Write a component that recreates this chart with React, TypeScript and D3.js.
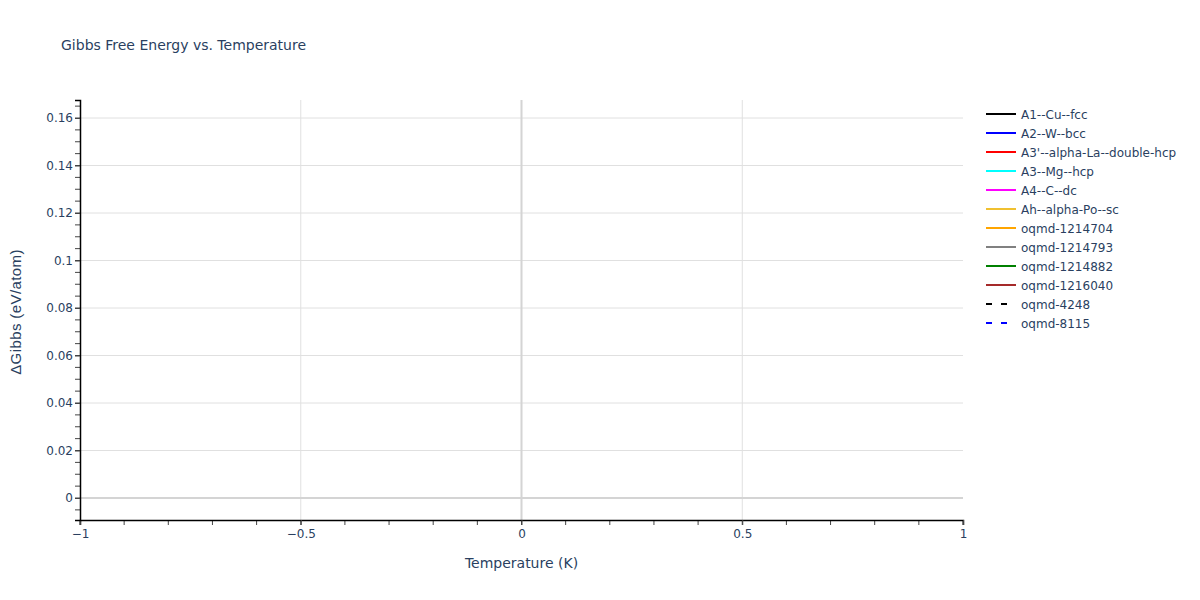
import React, { useEffect, useRef } from "react";
import * as d3 from "d3";

// series shown in the legend (no points survive in the plotted range)
const seriesNames = [
  "A1--Cu--fcc",
  "A2--W--bcc",
  "A3'--alpha-La--double-hcp",
  "A3--Mg--hcp",
  "A4--C--dc",
  "Ah--alpha-Po--sc",
  "oqmd-1214704",
  "oqmd-1214793",
  "oqmd-1214882",
  "oqmd-1216040",
  "oqmd-4248",
  "oqmd-8115",
];
const seriesColors = [
  "black",
  "blue",
  "red",
  "cyan",
  "magenta",
  "#f0c030",
  "orange",
  "gray",
  "green",
  "brown",
  "black",
  "blue",
];
const seriesDashed = [false, false, false, false, false, false, false, false, false, false, true, true];
const seriesTemps: number[][] = seriesNames.map(() => []);
const seriesGibbs: number[][] = seriesNames.map(() => []);

const xDomain = [-1, 1];
const yDomain = [-0.00926, 0.16758];
const xTicks = [-1, -0.5, 0, 0.5, 1];
const yTicks = [0, 0.02, 0.04, 0.06, 0.08, 0.1, 0.12, 0.14, 0.16];

const W = 1200;
const H = 600;
const FONT = "'DejaVu Sans', Verdana, sans-serif";
const TEXT = "#2a3f5f";

const App: React.FC = () => {
  const svgRef = useRef<SVGSVGElement>(null);

  useEffect(() => {
    if (!svgRef.current) return;
    const margin = { top: 100, right: 237, bottom: 80, left: 80 };
    const width = W - margin.left - margin.right;
    const height = H - margin.top - margin.bottom;

    const svg = d3.select(svgRef.current);
    svg.selectAll("*").remove();

    svg.append("rect").attr("width", W).attr("height", H).attr("fill", "white");

    const g = svg.append("g").attr("transform", `translate(${margin.left},${margin.top})`);

    const x = d3.scaleLinear().domain(xDomain).range([0, width]);
    const y = d3.scaleLinear().domain(yDomain).range([height, 0]);

    // grid
    g.append("g")
      .selectAll("line")
      .data(xTicks.filter((t) => t !== 0 && t !== -1 && t !== 1))
      .enter()
      .append("line")
      .attr("x1", (d) => x(d))
      .attr("x2", (d) => x(d))
      .attr("y1", 0)
      .attr("y2", height)
      .attr("stroke", "#e0e0e0")
      .attr("stroke-width", 1);
    g.append("g")
      .selectAll("line")
      .data(yTicks.filter((t) => t !== 0))
      .enter()
      .append("line")
      .attr("x1", 0)
      .attr("x2", width)
      .attr("y1", (d) => y(d))
      .attr("y2", (d) => y(d))
      .attr("stroke", "#e0e0e0")
      .attr("stroke-width", 1);

    // zero lines
    g.append("line")
      .attr("x1", x(0))
      .attr("x2", x(0))
      .attr("y1", 0)
      .attr("y2", height)
      .attr("stroke", "#d4d4d4")
      .attr("stroke-width", 2);
    g.append("line")
      .attr("x1", 0)
      .attr("x2", width)
      .attr("y1", y(0))
      .attr("y2", y(0))
      .attr("stroke", "#d4d4d4")
      .attr("stroke-width", 2);

    // data lines (none fall in the plotted range)
    seriesNames.forEach((_, i) => {
      const pts = seriesTemps[i].map((t, j) => [t, seriesGibbs[i][j]] as [number, number]);
      if (!pts.length) return;
      g.append("path")
        .attr(
          "d",
          d3
            .line<[number, number]>()
            .x((d) => x(d[0]))
            .y((d) => y(d[1]))(pts),
        )
        .attr("fill", "none")
        .attr("stroke", seriesColors[i])
        .attr("stroke-width", 2)
        .attr("stroke-dasharray", seriesDashed[i] ? "6,6" : null);
    });

    // x axis
    const xMinor = d3.range(-10, 11).map((v) => v / 10);
    g.append("g")
      .attr("transform", `translate(0,${height})`)
      .selectAll("line")
      .data(xMinor)
      .enter()
      .append("line")
      .attr("x1", (d) => x(d))
      .attr("x2", (d) => x(d))
      .attr("y1", 0)
      .attr("y2", 5)
      .attr("stroke", "#444");
    const xAxis = g
      .append("g")
      .attr("transform", `translate(0,${height})`)
      .call(
        d3
          .axisBottom(x)
          .tickValues(xTicks)
          .tickSize(5)
          .tickFormat((d) => {
            const v = d as number;
            const s = d3.format("")(Math.abs(v));
            return v < 0 ? "\u2212" + s : s;
          }),
      );
    xAxis.select(".domain").attr("stroke", "black").attr("stroke-width", 1.5);
    xAxis.selectAll(".tick line").attr("stroke", "#444");
    xAxis
      .selectAll("text")
      .attr("dy", "0.71em")
      .attr("y", 9)
      .style("font-family", FONT)
      .style("font-size", "12px")
      .attr("fill", TEXT);

    // y axis
    const yMinor = d3.range(-1, 34).map((v) => v * 0.005);
    g.append("g")
      .selectAll("line")
      .data(yMinor)
      .enter()
      .append("line")
      .attr("x1", -5)
      .attr("x2", 0)
      .attr("y1", (d) => y(d))
      .attr("y2", (d) => y(d))
      .attr("stroke", "#444");
    const yAxis = g.append("g").call(
      d3
        .axisLeft(y)
        .tickValues(yTicks)
        .tickSize(5)
        .tickFormat((d) => d3.format("")(+(d as number).toFixed(2))),
    );
    yAxis.select(".domain").attr("stroke", "black").attr("stroke-width", 1.5);
    yAxis.selectAll(".tick line").attr("stroke", "#444");
    yAxis
      .selectAll("text")
      .attr("x", -7)
      .style("font-family", FONT)
      .style("font-size", "12px")
      .attr("fill", TEXT);

    // axis titles
    svg
      .append("text")
      .attr("x", margin.left + width / 2)
      .attr("y", 568)
      .attr("text-anchor", "middle")
      .style("font-family", FONT)
      .style("font-size", "14px")
      .attr("fill", TEXT)
      .text("Temperature (K)");
    svg
      .append("text")
      .attr("transform", `translate(21,${margin.top + height / 2 + 2}) rotate(-90)`)
      .attr("text-anchor", "middle")
      .style("font-family", "'Liberation Sans', Arial, sans-serif")
      .style("font-size", "15px")
      .style("letter-spacing", "0.4px")
      .attr("fill", TEXT)
      .text("\u0394Gibbs (eV/atom)");

    // title
    svg
      .append("text")
      .attr("x", 61)
      .attr("y", 50)
      .style("font-family", FONT)
      .style("font-size", "14px")
      .attr("fill", TEXT)
      .text("Gibbs Free Energy vs. Temperature");

    // legend
    const legend = svg.append("g").attr("transform", "translate(986,114)");
    const items = legend
      .selectAll("g")
      .data(seriesNames)
      .enter()
      .append("g")
      .attr("transform", (_, i) => `translate(0,${i * 19})`);
    items
      .append("line")
      .attr("x1", 0)
      .attr("x2", 30)
      .attr("y1", 0)
      .attr("y2", 0)
      .attr("stroke", (_, i) => seriesColors[i])
      .attr("stroke-width", 2)
      .attr("stroke-dasharray", (_, i) => (seriesDashed[i] ? "6,9" : null));
    items
      .append("text")
      .attr("x", 35)
      .attr("y", 4.5)
      .style("font-family", FONT)
      .style("font-size", "12px")
      .attr("fill", TEXT)
      .text((d) => d);
  }, []);

  return (
    <div style={{ position: "absolute", left: 0, top: 0 }}>
      <svg ref={svgRef} width={W} height={H} style={{ display: "block" }} />
    </div>
  );
};

export default App;
